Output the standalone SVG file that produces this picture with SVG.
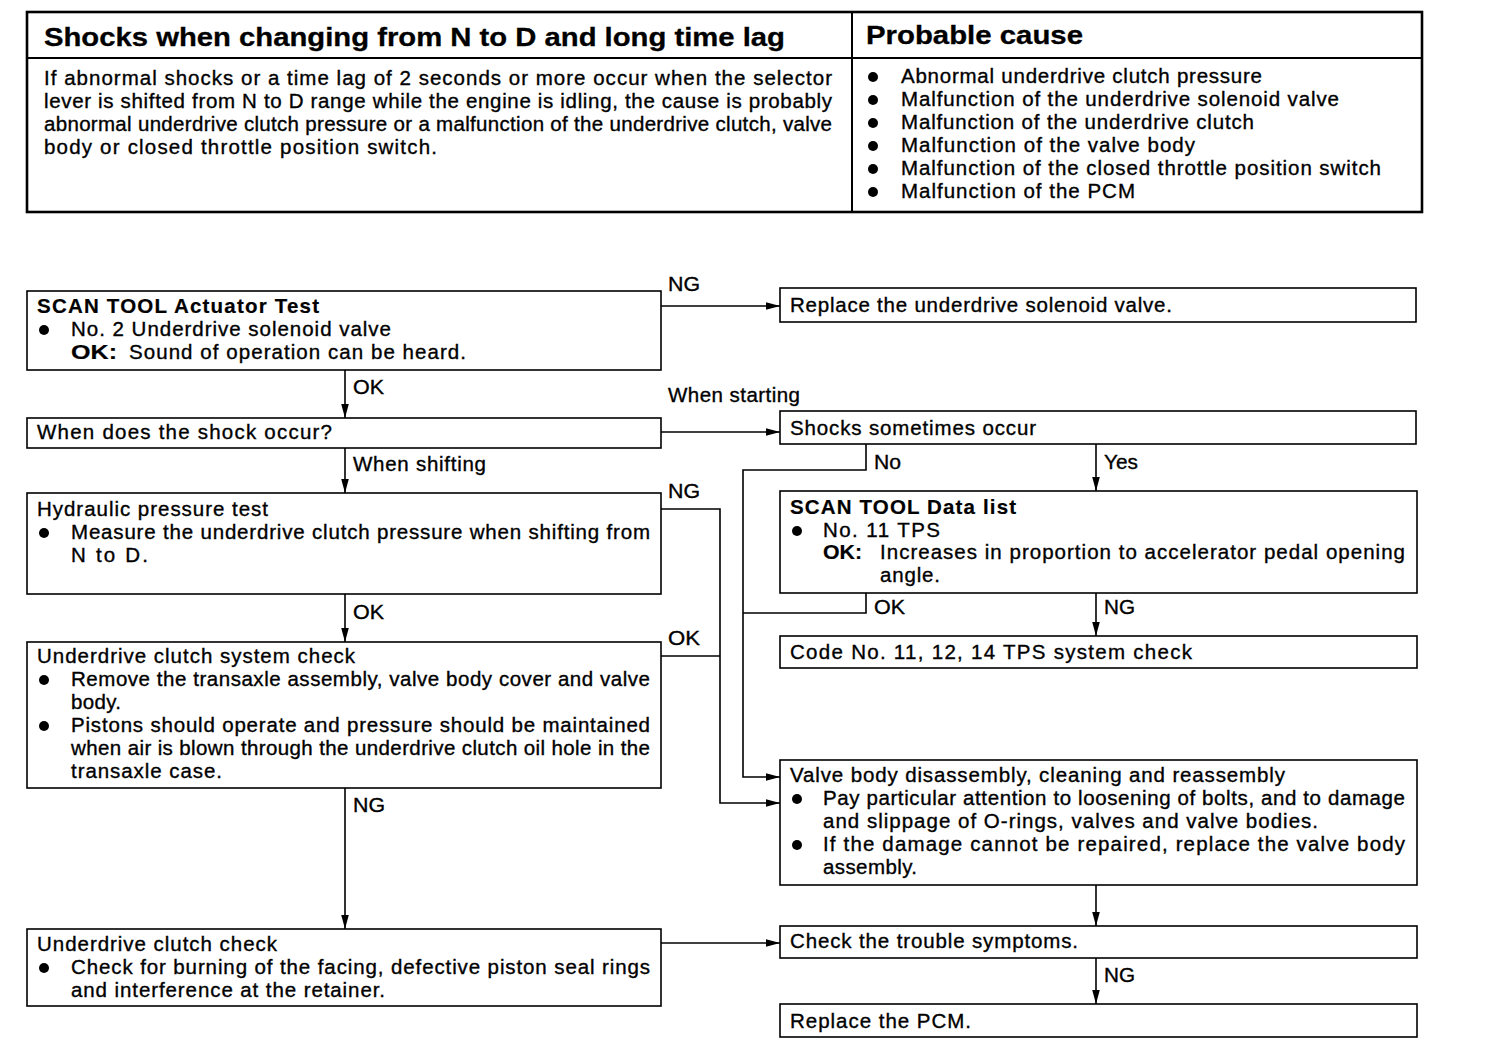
<svg xmlns="http://www.w3.org/2000/svg" width="1504" height="1058" viewBox="0 0 1504 1058">
<style>
text{font-family:"Liberation Sans",Arial,sans-serif;font-size:20.5px;fill:#000;stroke:#000;stroke-width:0.35}
.h{font-size:26px;font-weight:bold;stroke-width:0.3}
.b{font-weight:bold;stroke-width:0.2}
.box{fill:#fff;stroke:#000;stroke-width:1.6}
.tb{fill:none;stroke:#000;stroke-width:2.6}
.tl{fill:none;stroke:#000;stroke-width:2}
.c{fill:none;stroke:#000;stroke-width:1.6}
.a{marker-end:url(#ah)}
</style>
<defs>
<marker id="ah" markerUnits="userSpaceOnUse" markerWidth="16" markerHeight="10" refX="14" refY="5" orient="auto">
<path d="M0,1.2 L14,5 L0,8.8 Z" fill="#000"/>
</marker>
<circle id="dot" r="5" fill="#000"/>
</defs>
<rect width="1504" height="1058" fill="#fff"/>

<g id="table">
<rect class="tb" x="27" y="12" width="1395" height="200"/>
<line class="tl" x1="27" y1="58" x2="1422" y2="58"/>
<line class="tl" x1="852" y1="12" x2="852" y2="212"/>
<text class="h" x="44" y="46" textLength="741" lengthAdjust="spacingAndGlyphs">Shocks when changing from N to D and long time lag</text>
<text class="h" x="866" y="44" textLength="217" lengthAdjust="spacingAndGlyphs">Probable cause</text>
<text x="44" y="85" textLength="788" lengthAdjust="spacing">If abnormal shocks or a time lag of 2 seconds or more occur when the selector</text>
<text x="44" y="108" textLength="788" lengthAdjust="spacing">lever is shifted from N to D range while the engine is idling, the cause is probably</text>
<text x="44" y="131" textLength="788" lengthAdjust="spacing">abnormal underdrive clutch pressure or a malfunction of the underdrive clutch, valve</text>
<text x="44" y="154" textLength="393" lengthAdjust="spacing">body or closed throttle position switch.</text>
<use href="#dot" x="873" y="77"/>
<use href="#dot" x="873" y="100"/>
<use href="#dot" x="873" y="123"/>
<use href="#dot" x="873" y="146"/>
<use href="#dot" x="873" y="169"/>
<use href="#dot" x="873" y="192"/>
<text x="901" y="83" textLength="361" lengthAdjust="spacing">Abnormal underdrive clutch pressure</text>
<text x="901" y="106" textLength="438" lengthAdjust="spacing">Malfunction of the underdrive solenoid valve</text>
<text x="901" y="129" textLength="353" lengthAdjust="spacing">Malfunction of the underdrive clutch</text>
<text x="901" y="152" textLength="294" lengthAdjust="spacing">Malfunction of the valve body</text>
<text x="901" y="175" textLength="480" lengthAdjust="spacing">Malfunction of the closed throttle position switch</text>
<text x="901" y="198" textLength="234" lengthAdjust="spacing">Malfunction of the PCM</text>
</g>

<g id="connectors">
<line class="c a" x1="661" y1="306" x2="780" y2="306"/>
<line class="c a" x1="345" y1="370" x2="345" y2="418"/>
<line class="c a" x1="661" y1="432" x2="780" y2="432"/>
<line class="c a" x1="345" y1="448" x2="345" y2="493"/>
<polyline class="c a" points="661,509 720,509 720,803 780,803"/>
<line class="c a" x1="345" y1="594" x2="345" y2="642"/>
<line class="c" x1="661" y1="656" x2="720" y2="656"/>
<line class="c a" x1="345" y1="788" x2="345" y2="929"/>
<line class="c a" x1="661" y1="943" x2="780" y2="943"/>
<polyline class="c a" points="866,444 866,470 743,470 743,777 780,777"/>
<line class="c a" x1="1096" y1="444" x2="1096" y2="491"/>
<polyline class="c" points="866,593 866,613 743,613"/>
<line class="c a" x1="1096" y1="593" x2="1096" y2="636"/>
<line class="c a" x1="1096" y1="885" x2="1096" y2="926"/>
<line class="c a" x1="1096" y1="958" x2="1096" y2="1004"/>
<text x="668" y="291" textLength="32" lengthAdjust="spacingAndGlyphs">NG</text>
<text x="353" y="394" textLength="31" lengthAdjust="spacingAndGlyphs">OK</text>
<text x="668" y="402" textLength="132" lengthAdjust="spacing">When starting</text>
<text x="353" y="471" textLength="133" lengthAdjust="spacing">When shifting</text>
<text x="668" y="498" textLength="32" lengthAdjust="spacingAndGlyphs">NG</text>
<text x="353" y="619" textLength="31" lengthAdjust="spacingAndGlyphs">OK</text>
<text x="668" y="645" textLength="32" lengthAdjust="spacingAndGlyphs">OK</text>
<text x="353" y="812" textLength="32" lengthAdjust="spacingAndGlyphs">NG</text>
<text x="874" y="469" textLength="27" lengthAdjust="spacingAndGlyphs">No</text>
<text x="1104" y="469" textLength="34" lengthAdjust="spacingAndGlyphs">Yes</text>
<text x="874" y="614" textLength="31" lengthAdjust="spacingAndGlyphs">OK</text>
<text x="1104" y="614" textLength="31" lengthAdjust="spacingAndGlyphs">NG</text>
<text x="1104" y="982" textLength="31" lengthAdjust="spacingAndGlyphs">NG</text>
</g>

<g id="actuator-test">
<rect class="box" x="27" y="291" width="634" height="79"/>
<text class="b" x="37" y="313" textLength="282" lengthAdjust="spacing">SCAN TOOL Actuator Test</text>
<use href="#dot" x="44" y="330"/>
<text x="71" y="336" textLength="320" lengthAdjust="spacing">No. 2 Underdrive solenoid valve</text>
<text class="b" x="71" y="359" textLength="46" lengthAdjust="spacingAndGlyphs">OK:</text>
<text x="129" y="359" textLength="337" lengthAdjust="spacing">Sound of operation can be heard.</text>
</g>

<g id="replace-solenoid">
<rect class="box" x="780" y="288" width="636" height="34"/>
<text x="790" y="312" textLength="382" lengthAdjust="spacing">Replace the underdrive solenoid valve.</text>
</g>

<g id="when-shock">
<rect class="box" x="27" y="418" width="634" height="30"/>
<text x="37" y="439" textLength="295" lengthAdjust="spacing">When does the shock occur?</text>
</g>

<g id="shocks-sometimes">
<rect class="box" x="780" y="411" width="636" height="33"/>
<text x="790" y="435" textLength="246" lengthAdjust="spacing">Shocks sometimes occur</text>
</g>

<g id="hydraulic-test">
<rect class="box" x="27" y="493" width="634" height="101"/>
<text x="37" y="516" textLength="231" lengthAdjust="spacing">Hydraulic pressure test</text>
<use href="#dot" x="44" y="533"/>
<text x="71" y="539" textLength="579" lengthAdjust="spacing">Measure the underdrive clutch pressure when shifting from</text>
<text x="71" y="562" textLength="77" lengthAdjust="spacing">N to D.</text>
</g>

<g id="data-list">
<rect class="box" x="780" y="491" width="637" height="102"/>
<text class="b" x="790" y="514" textLength="226" lengthAdjust="spacing">SCAN TOOL Data list</text>
<use href="#dot" x="797" y="531"/>
<text x="823" y="537" textLength="117" lengthAdjust="spacing">No. 11 TPS</text>
<text class="b" x="823" y="559" textLength="39" lengthAdjust="spacingAndGlyphs">OK:</text>
<text x="880" y="559" textLength="525" lengthAdjust="spacing">Increases in proportion to accelerator pedal opening</text>
<text x="880" y="582" textLength="60" lengthAdjust="spacing">angle.</text>
</g>

<g id="code-tps">
<rect class="box" x="780" y="636" width="637" height="32"/>
<text x="790" y="659" textLength="402" lengthAdjust="spacing">Code No. 11, 12, 14 TPS system check</text>
</g>

<g id="clutch-system-check">
<rect class="box" x="27" y="642" width="634" height="146"/>
<text x="37" y="663" textLength="318" lengthAdjust="spacing">Underdrive clutch system check</text>
<use href="#dot" x="44" y="680"/>
<text x="71" y="686" textLength="579" lengthAdjust="spacing">Remove the transaxle assembly, valve body cover and valve</text>
<text x="71" y="709" textLength="50" lengthAdjust="spacing">body.</text>
<use href="#dot" x="44" y="726"/>
<text x="71" y="732" textLength="579" lengthAdjust="spacing">Pistons should operate and pressure should be maintained</text>
<text x="71" y="755" textLength="579" lengthAdjust="spacing">when air is blown through the underdrive clutch oil hole in the</text>
<text x="71" y="778" textLength="151" lengthAdjust="spacing">transaxle case.</text>
</g>

<g id="valve-body">
<rect class="box" x="780" y="760" width="637" height="125"/>
<text x="790" y="782" textLength="495" lengthAdjust="spacing">Valve body disassembly, cleaning and reassembly</text>
<use href="#dot" x="797" y="799"/>
<text x="823" y="805" textLength="582" lengthAdjust="spacing">Pay particular attention to loosening of bolts, and to damage</text>
<text x="823" y="828" textLength="495" lengthAdjust="spacing">and slippage of O-rings, valves and valve bodies.</text>
<use href="#dot" x="797" y="845"/>
<text x="823" y="851" textLength="582" lengthAdjust="spacing">If the damage cannot be repaired, replace the valve body</text>
<text x="823" y="874" textLength="94" lengthAdjust="spacing">assembly.</text>
</g>

<g id="clutch-check">
<rect class="box" x="27" y="929" width="634" height="77"/>
<text x="37" y="951" textLength="240" lengthAdjust="spacing">Underdrive clutch check</text>
<use href="#dot" x="44" y="968"/>
<text x="71" y="974" textLength="579" lengthAdjust="spacing">Check for burning of the facing, defective piston seal rings</text>
<text x="71" y="997" textLength="314" lengthAdjust="spacing">and interference at the retainer.</text>
</g>

<g id="check-symptoms">
<rect class="box" x="780" y="926" width="637" height="32"/>
<text x="790" y="948" textLength="288" lengthAdjust="spacing">Check the trouble symptoms.</text>
</g>

<g id="replace-pcm">
<rect class="box" x="780" y="1004" width="637" height="33"/>
<text x="790" y="1028" textLength="181" lengthAdjust="spacing">Replace the PCM.</text>
</g>
</svg>
